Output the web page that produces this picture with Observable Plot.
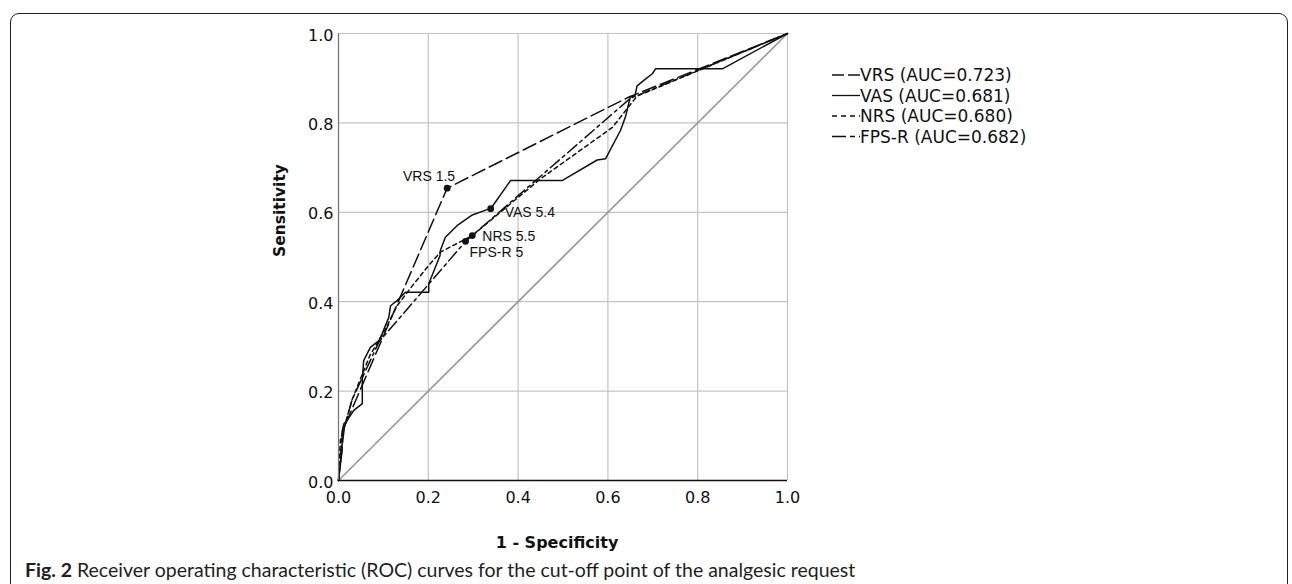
<!DOCTYPE html>
<html>
<head>
<meta charset="utf-8">
<script src="https://cdn.jsdelivr.net/npm/d3@7"></script>
<script src="https://cdn.jsdelivr.net/npm/@observablehq/plot@0.6"></script>
<style>
  html, body { margin: 0; padding: 0; background: #fff; }
  #wrap { position: relative; width: 1292px; height: 584px; overflow: hidden; }
  #frame { position: absolute; left: 10px; top: 13px; width: 1278px; height: 600px;
           border: 1.5px solid #222; border-radius: 9px; box-sizing: border-box; }
  #chart { position: absolute; left: 0; top: 0; }
  #legend { position: absolute; left: 832px; top: 64px; }
  #caption { position: absolute; left: 25px; top: 558px; font-family: Lato, "Open Sans", sans-serif;
             font-size: 19.5px; line-height: 24px; color: #231f20; white-space: nowrap; }
  #caption b { font-weight: 700; }
</style>
</head>
<body>
<div id="wrap">
  <div id="frame"></div>
  <div id="chart"></div>
  <svg id="legend" width="230" height="90"></svg>
  <div id="caption"><b>Fig. 2</b> Receiver operating characteristic (ROC) curves for the cut-off point of the analgesic request</div>
</div>
<script>
// ---- data ----
const tickValues = [0, 0.2, 0.4, 0.6, 0.8, 1.0];

const vrsFpr = [0, 0.013, 0.242, 0.647, 1];
const vrsTpr = [0, 0.120, 0.654, 0.858, 1];

const vasFpr = [0, 0.008, 0.008, 0.012, 0.019, 0.034, 0.053, 0.053, 0.056, 0.071, 0.090, 0.097, 0.112, 0.116, 0.131, 0.149, 0.201, 0.201, 0.226, 0.227, 0.238, 0.264, 0.298, 0.331, 0.339, 0.383, 0.498, 0.576, 0.595, 0.628, 0.639, 0.650, 0.660, 0.665, 0.680, 0.699, 0.706, 0.855, 1];
const vasTpr = [0, 0.067, 0.110, 0.127, 0.134, 0.157, 0.172, 0.224, 0.268, 0.298, 0.313, 0.328, 0.365, 0.391, 0.403, 0.421, 0.421, 0.440, 0.503, 0.515, 0.544, 0.570, 0.594, 0.606, 0.608, 0.671, 0.671, 0.717, 0.720, 0.783, 0.813, 0.858, 0.860, 0.883, 0.895, 0.910, 0.921, 0.921, 1];

const nrsFpr = [0, 0.004, 0.013, 0.030, 0.050, 0.070, 0.100, 0.130, 0.160, 0.200, 0.227, 0.298, 0.450, 0.610, 0.665, 1];
const nrsTpr = [0, 0.090, 0.120, 0.180, 0.230, 0.280, 0.330, 0.390, 0.430, 0.480, 0.511, 0.548, 0.675, 0.790, 0.860, 1];

const fpsFpr = [0, 0.008, 0.030, 0.090, 0.283, 0.650, 1];
const fpsTpr = [0, 0.100, 0.180, 0.310, 0.535, 0.855, 1];

const diagFpr = [0, 1];
const diagTpr = [0, 1];

const cutLabels = ["VRS 1.5", "VAS 5.4", "NRS 5.5", "FPS-R 5"];
const cutFpr = [0.242, 0.339, 0.298, 0.283];
const cutTpr = [0.654, 0.608, 0.548, 0.535];

const seriesNames = ["VRS (AUC=0.723)", "VAS (AUC=0.681)", "NRS (AUC=0.680)", "FPS-R (AUC=0.682)"];

// ---- build tables ----
const toRows = (xs, ys) => xs.map((x, i) => ({x, y: ys[i]}));
const vrs = toRows(vrsFpr, vrsTpr);
const vas = toRows(vasFpr, vasTpr);
const nrs = toRows(nrsFpr, nrsTpr);
const fps = toRows(fpsFpr, fpsTpr);
const diag = toRows(diagFpr, diagTpr);
const cuts = cutLabels.map((label, i) => ({label, x: cutFpr[i], y: cutTpr[i]}));

const dashes = {VRS: "14,5", VAS: null, NRS: "4,3.5", FPS: "12,4,3,4"};
const labelOffsets = {
  "VRS 1.5": {dx: 8, dy: -12, anchor: "end"},
  "VAS 5.4": {dx: 14, dy: 4, anchor: "start"},
  "NRS 5.5": {dx: 10, dy: 1, anchor: "start"},
  "FPS-R 5": {dx: 4, dy: 11, anchor: "start"}
};

const lineStyle = {stroke: "#111", strokeWidth: 1.5, curve: "linear"};
const fmt = d3.format(".1f");

const chart = Plot.plot({
  width: 1292,
  height: 558,
  marginLeft: 338,
  marginRight: 505,
  marginTop: 33,
  marginBottom: 78,
  x: {domain: [0, 1]},
  y: {domain: [0, 1]},
  style: {fontFamily: "DejaVu Sans", fontSize: "16px", color: "#111", background: "transparent", overflow: "visible"},
  marks: [
    Plot.gridX(tickValues, {stroke: "#c4c4c4", strokeOpacity: 1, strokeWidth: 1.2}),
    Plot.gridY(tickValues, {stroke: "#c4c4c4", strokeOpacity: 1, strokeWidth: 1.2}),
    Plot.line(diag, {x: "x", y: "y", stroke: "#9a9a9a", strokeWidth: 1.7}),
    Plot.line(vrs, {x: "x", y: "y", ...lineStyle, strokeDasharray: dashes.VRS}),
    Plot.line(vas, {x: "x", y: "y", ...lineStyle}),
    Plot.line(nrs, {x: "x", y: "y", ...lineStyle, strokeDasharray: dashes.NRS}),
    Plot.line(fps, {x: "x", y: "y", ...lineStyle, strokeDasharray: dashes.FPS}),
    Plot.ruleX([0], {stroke: "#777", strokeWidth: 1.2}),
    Plot.ruleY([0], {stroke: "#111", strokeWidth: 1.5}),
    Plot.axisX(tickValues, {tickSize: 0, tickPadding: 11, tickFormat: fmt, label: null, fontSize: 16}),
    Plot.axisY(tickValues, {tickSize: 0, tickPadding: 5, tickFormat: fmt, label: null, fontSize: 16, dy: 2}),
    Plot.dot(cuts, {x: "x", y: "y", r: 3.4, fill: "#111", stroke: null}),
    ...cutLabels.map(l => Plot.text(cuts.filter(d => d.label === l), {
      x: "x", y: "y", text: "label", textAnchor: labelOffsets[l].anchor,
      dx: labelOffsets[l].dx, dy: labelOffsets[l].dy,
      fontFamily: "Liberation Sans, Arial, sans-serif", fontSize: 14, fill: "#111"
    })),
    Plot.text(["1 - Specificity"], {frameAnchor: "bottom", dx: -6, dy: 67, fontFamily: "DejaVu Sans", fontWeight: "bold", fontSize: 16, fill: "#111"}),
    Plot.text(["Sensitivity"], {frameAnchor: "left", dx: -58, rotate: -90, fontFamily: "DejaVu Sans", fontWeight: "bold", fontSize: 15.5, fill: "#111"})
  ]
});
document.getElementById("chart").appendChild(chart);

// ---- legend ----
const legend = d3.select("#legend");
const legendDash = [dashes.VRS ? "12,4" : null, dashes.VAS, "5,4", "14,4,5,4"];
seriesNames.forEach((name, i) => {
  const y = 11 + i * 20.5;
  legend.append("line").attr("x1", 0).attr("x2", 28).attr("y1", y).attr("y2", y)
    .attr("stroke", "#111").attr("stroke-width", 1.3)
    .attr("stroke-dasharray", legendDash[i]);
  legend.append("text").attr("x", 28).attr("y", y).attr("dy", "0.36em")
    .attr("font-family", "DejaVu Sans").attr("font-size", 17).attr("fill", "#111")
    .text(name);
});
</script>
</body>
</html>
